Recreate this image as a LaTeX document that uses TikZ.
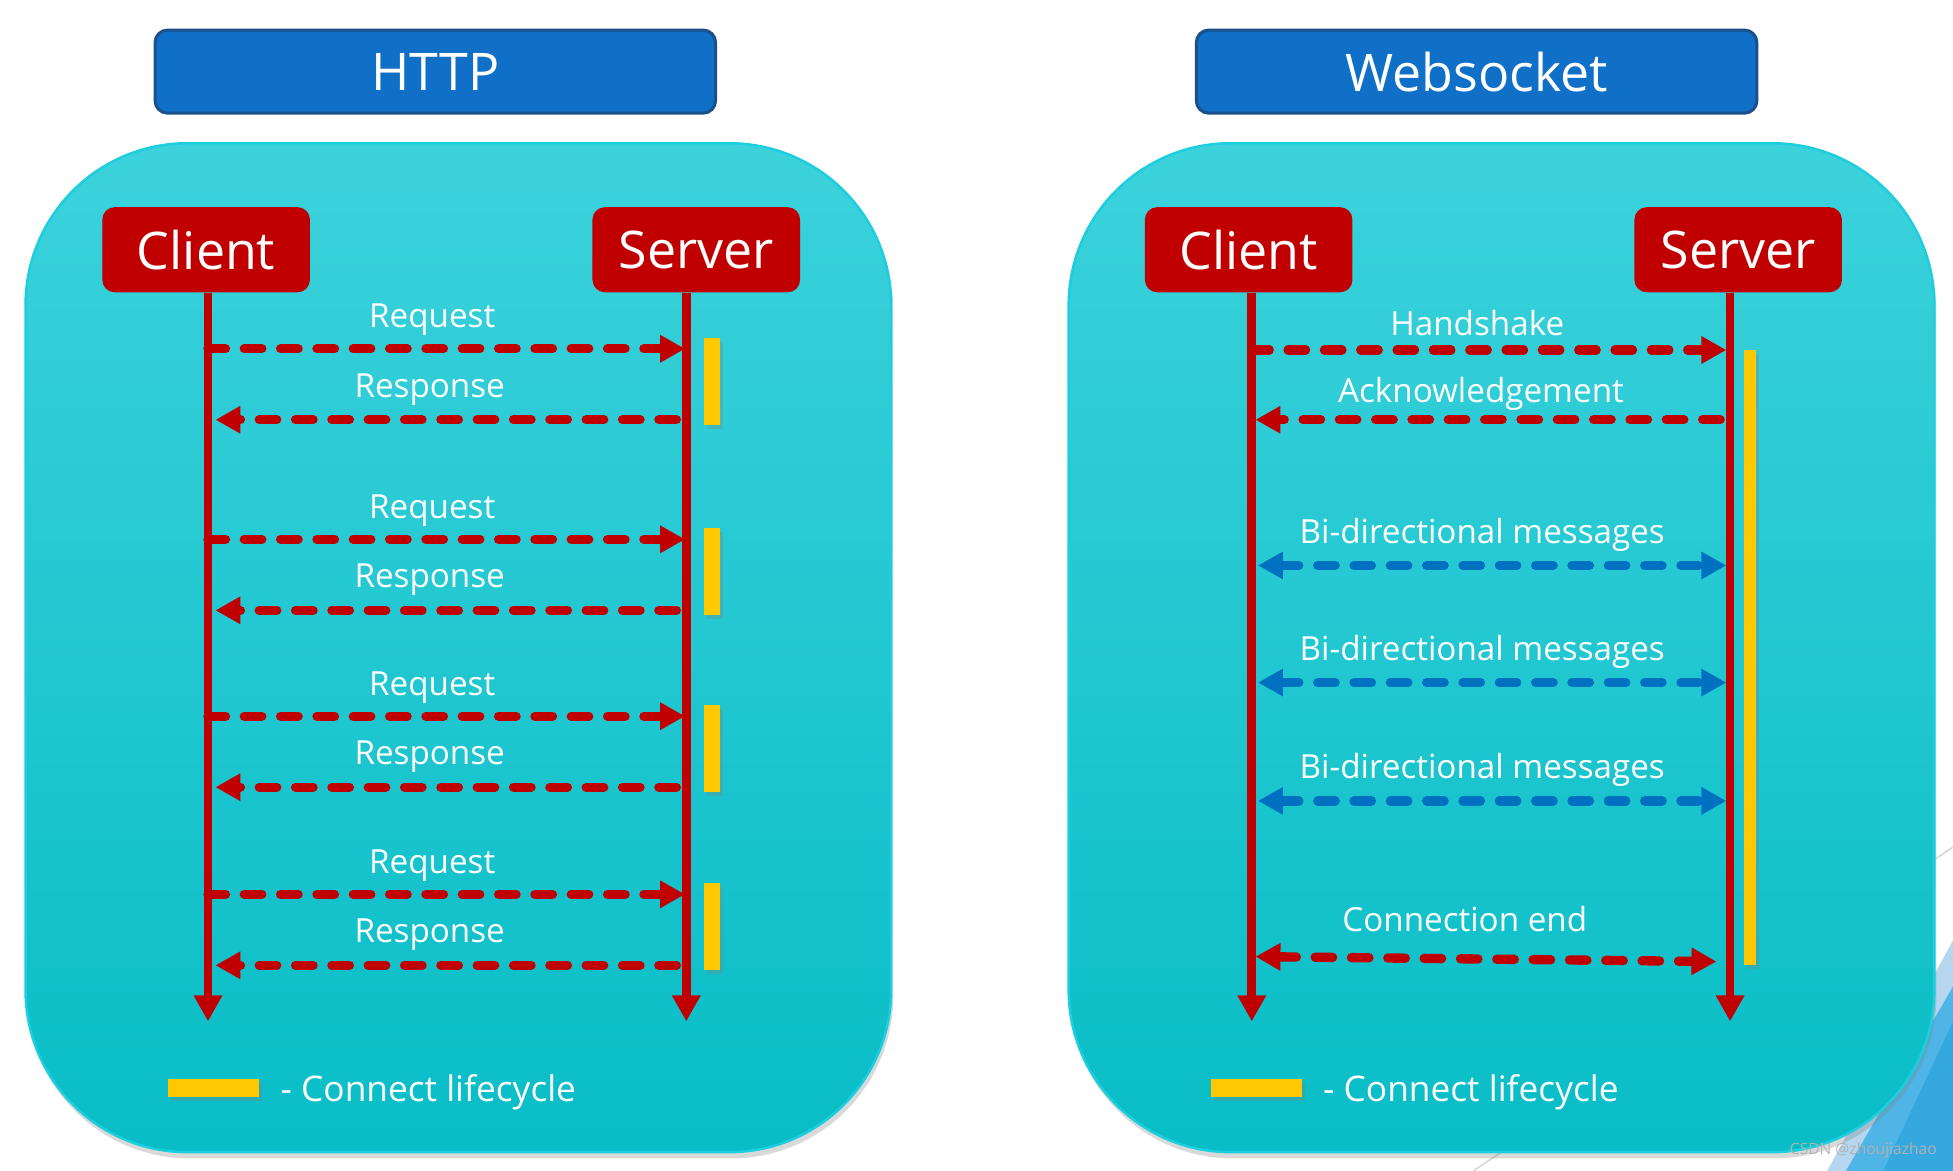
\documentclass[tikz,border=0pt]{standalone}
\usepackage{fontspec}
\setmainfont{Open Sans}
\usetikzlibrary{arrows.meta,positioning,shadows}
\definecolor{titleblue}{RGB}{16,112,200}
\definecolor{titleedge}{RGB}{26,80,140}
\definecolor{panetop}{RGB}{60,210,220}
\definecolor{panebottom}{RGB}{8,189,198}
\definecolor{paneedge}{RGB}{28,206,222}
\definecolor{darkred}{RGB}{192,0,0}
\definecolor{lifeyellow}{RGB}{255,200,0}
\definecolor{msgblue}{RGB}{0,112,192}
\definecolor{palesky}{RGB}{182,214,240}
\definecolor{midsky}{RGB}{78,181,230}
\definecolor{deepsky}{RGB}{52,168,223}

\begin{document}
\begin{tikzpicture}[x=0.6pt,y=-0.6pt,
    title/.style={rectangle,draw=titleedge,line width=1.5pt,fill=titleblue,rounded corners=6pt,
      minimum width=270pt,minimum height=40pt,text=white,font=\fontsize{25}{30}\selectfont},
    pane/.style={rectangle,draw=paneedge,line width=1.2pt,top color=panetop,bottom color=panebottom,
      rounded corners=78pt,minimum width=417pt,minimum height=486pt,
      drop shadow={opacity=.3,shadow xshift=1pt,shadow yshift=-3pt}},
    actor/.style={rectangle,fill=darkred,rounded corners=6pt,minimum width=100pt,minimum height=41pt,
      text=white,font=\fontsize{25}{30}\selectfont},
    life/.style={darkred,line width=4.2pt,-{Triangle[length=12.5pt,width=13pt]}},
    msg/.style={darkred,line width=4.5pt,line cap=round,dash pattern=on 8.4pt off 9.1pt,
      >={Triangle[length=12pt,width=12.5pt]},->},
    bimsg/.style={msg,msgblue,<->},
    lbl/.style={anchor=base,text=white,inner sep=0pt,font=\fontsize{16}{19}\selectfont},
    bar/.style={rectangle,fill=lifeyellow,inner sep=0pt,
      drop shadow={opacity=.3,shadow xshift=1.5pt,shadow yshift=-2pt}},
    key/.style={text=white,inner sep=0pt,yshift=-2pt,font=\fontsize{17}{20}\selectfont}]
  \useasboundingbox (0,0) rectangle (1568,940);
  % slide decoration, bottom right
  \draw[gray!30,line width=.8pt] (1568,680) -- (1183,940);
  \fill[palesky] (1568,755) -- (1568,940) -- (1467,940) -- cycle;
  \fill[midsky] (1568,792) -- (1568,940) -- (1482,940) -- cycle;
  \fill[deepsky] (1568,820) -- (1568,940) -- (1512,940) -- cycle;

  % HTTP
  \node[title] (httptitle) at (349.5,57.5) {HTTP};
  \node[pane] (httppane) at (368,520) {};
  \node[actor] (hcli) at (165.5,200.5) {Client};
  \node[actor] (hsrv) at (559,200.5) {Server};
  \coordinate (hcliend) at (167,820);
  \coordinate (hsrvend) at (551,820);
  \draw[life] (hcli.south -| hcliend) -- (hcliend);
  \draw[life] (hsrv.south -| hsrvend) -- (hsrvend);
  \foreach \i/\y in {1/280,2/433,3/575,4/718}{
    \node[lbl] (req\i) at (347,\y-17) {Request};
    \node[lbl] (rsp\i) at (345,\y+39) {Response};
    \coordinate (hq\i) at (167,\y);
    \coordinate (hs\i) at (550,\y);
    \coordinate (hr\i) at (543,\y+57);
    \coordinate (hc\i) at (173,\y+57);
    \draw[msg] (hq\i) -- (hs\i);
    \draw[msg] (hr\i) -- (hc\i);
    \node[bar,minimum width=7.8pt,minimum height=42pt] (hlife\i) at (571.5,\y+26) {};
  }
  \node[bar,minimum width=43.8pt,minimum height=9pt] (hkey) at (171.5,873.5) {};
  \node[key,right=10pt of hkey] (hkeytext) {- Connect lifecycle};

  % Websocket
  \node[title] (wstitle) at (1185.5,57.5) {Websocket};
  \node[pane] (wspane) at (1205.5,520) {};
  \node[actor] (wcli) at (1002.5,200.5) {Client};
  \node[actor] (wsrv) at (1395.5,200.5) {Server};
  \coordinate (wcliend) at (1005,820);
  \coordinate (wsrvend) at (1389,820);
  \draw[life] (wcli.south -| wcliend) -- (wcliend);
  \draw[life] (wsrv.south -| wsrvend) -- (wsrvend);
  \node[bar,minimum width=6pt,minimum height=296.4pt] (wlife) at (1405,528) {};
  \node[lbl] (hand) at (1186,269) {Handshake};
  \coordinate (handa) at (1005,281);
  \coordinate (handb) at (1386,281);
  \draw[msg] (handa) -- (handb);
  \node[lbl] (ack) at (1189,323) {Acknowledgement};
  \coordinate (acka) at (1381,337);
  \coordinate (ackb) at (1008,337);
  \draw[msg] (acka) -- (ackb);
  \foreach \i/\y in {1/454,2/548,3/643}{
    \node[lbl] (bidi\i) at (1190,\y-18) {Bi-directional messages};
    \coordinate (bidia\i) at (1010,\y);
    \coordinate (bidib\i) at (1386,\y);
    \draw[bimsg] (bidia\i) -- (bidib\i);
  }
  \node[lbl] (close) at (1176,748) {Connection end};
  \coordinate (closea) at (1008,768);
  \coordinate (closeb) at (1378,772);
  \draw[msg,<->] (closea) -- (closeb);
  \node[bar,minimum width=43.8pt,minimum height=9pt] (wkey) at (1008.5,873.5) {};
  \node[key,right=10pt of wkey] (wkeytext) {- Connect lifecycle};

  \node[text=gray!60,font=\fontsize{7.5}{9}\selectfont] (mark) at (1496,924) {CSDN @zhoujiazhao};
\end{tikzpicture}
\end{document}
